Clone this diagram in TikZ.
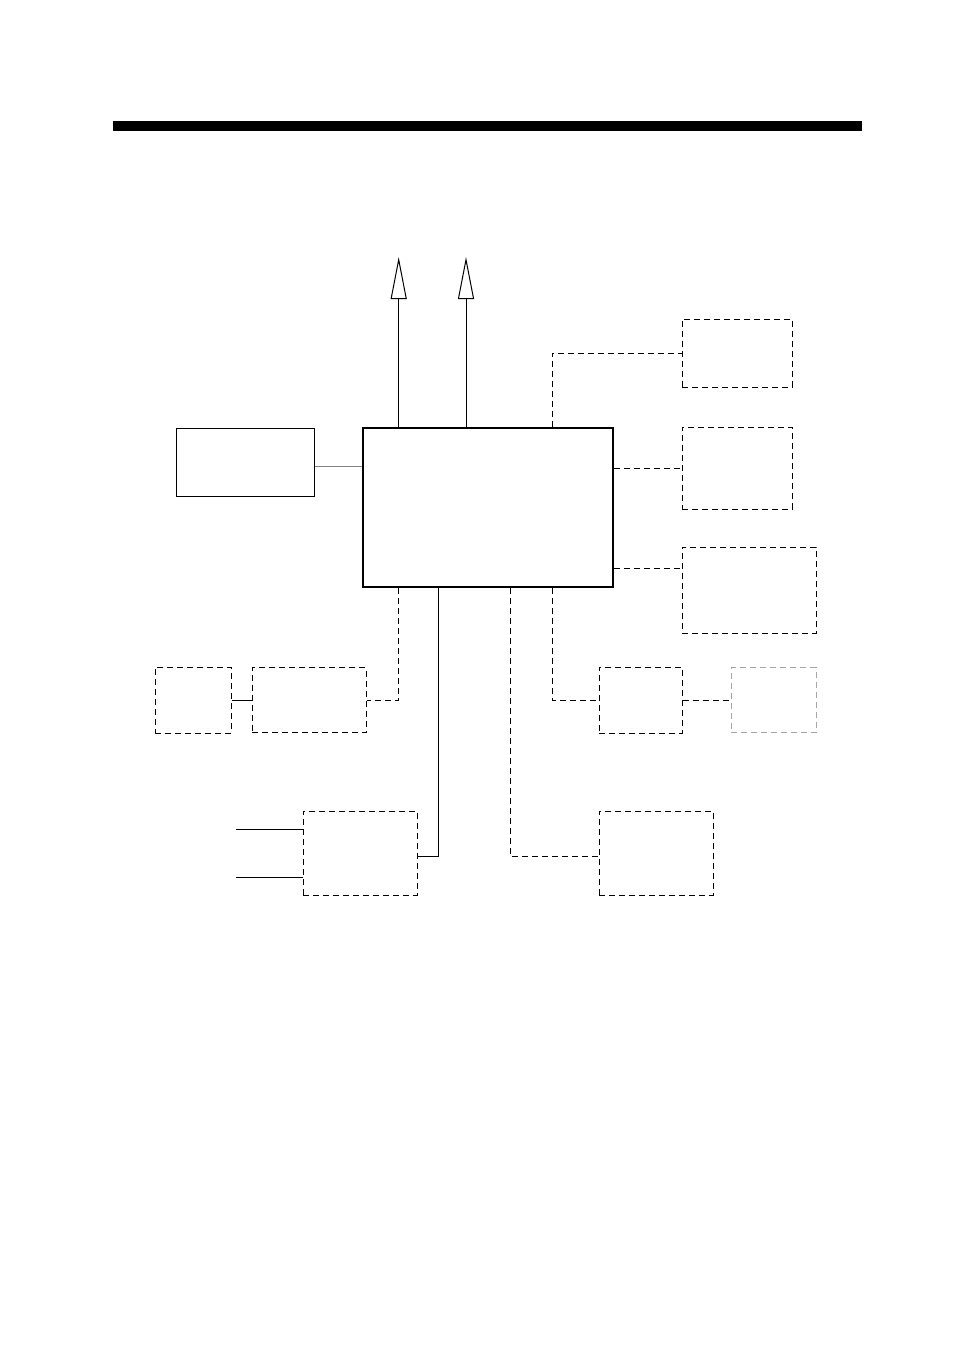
\documentclass[tikz,border=0pt]{standalone}
\usetikzlibrary{arrows.meta,positioning}
\begin{document}
\begin{tikzpicture}[x=1pt,y=-1pt,line width=1pt,
	box/.style 2 args={draw,inner sep=0pt,minimum width=#1,minimum height=#2},
	optbox/.style={dash pattern=on 6pt off 4pt},
	optline/.style={dash pattern=on 6pt off 4pt},
	outarrow/.style={-{Triangle[open,length=42pt,width=16pt]}}]

	\useasboundingbox (0,0) rectangle (954,1351);
	\fill (113,121) rectangle (862,131);

	\node[box={250pt}{159pt},line width=2pt] (main) at (488,507.5) {};
	\node[box={138pt}{68pt}] (disp) at (245,462) {};
	\node[box={110pt}{68pt},optbox] (r1) at (737,353) {};
	\node[box={110pt}{82pt},optbox] (r2) at (737,468) {};
	\node[box={134pt}{86pt},optbox] (r3) at (749,590) {};
	\node[box={83pt}{66pt},optbox] (r4) at (640.5,700) {};
	\node[box={85pt}{65pt},optbox,draw=gray!70] (r5) at (773.5,700) {};
	\node[box={76pt}{66pt},optbox] (l1) at (193,700) {};
	\node[box={114pt}{65pt},optbox] (l2) at (309,700) {};
	\node[box={114pt}{84pt},optbox] (b1) at (360,853) {};
	\node[box={114pt}{84pt},optbox] (b2) at (656,853) {};

	\coordinate (colL) at (398.7,0);
	\coordinate (colM) at (438.3,0);
	\coordinate (colN) at (466,0);
	\coordinate (colR) at (510.2,0);
	\coordinate (colA) at (552.3,0);
	\coordinate (out1) at (398.7,257);
	\coordinate (out2) at (466,257);
	\coordinate (in1) at (236,829);
	\coordinate (in2) at (236,877);

	\draw[outarrow] (main.north -| colL) -- (out1);
	\draw[outarrow] (main.north -| colN) -- (out2);
	\draw[gray] ([yshift=-4pt]disp.east) -- ([yshift=-4pt]disp.east -| main.west);

	\draw[optline] (main.north -| colA) |- (r1.west);
	\draw[optline] (main.east |- r2.west) -- (r2.west);
	\draw[optline] ([yshift=22pt]r3.west -| main.east) -- ([yshift=22pt]r3.west);
	\draw[optline] (main.south -| colA) |- (r4.west);
	\draw[optline] (r4.east) -- (r5.west);
	\draw[optline] (main.south -| colL) |- (l2.east);
	\draw (l1.east) -- (l2.west);
	\draw (main.south -| colM) |- ([yshift=-3pt]b1.east);
	\draw[optline] (main.south -| colR) |- ([yshift=-3pt]b2.west);
	\draw (in1) -- (in1 -| b1.west);
	\draw (in2) -- (in2 -| b1.west);

\end{tikzpicture}
\end{document}
